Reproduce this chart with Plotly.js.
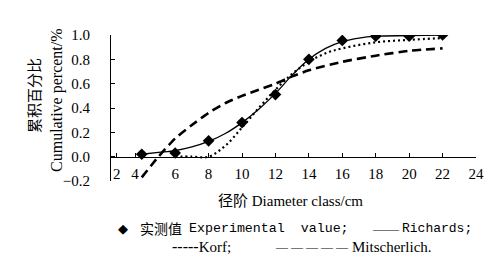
<!DOCTYPE html>
<html><head><meta charset="utf-8">
<script src="https://cdn.plot.ly/plotly-3.0.1.min.js"></script>
<style>html,body{margin:0;padding:0;background:#fff;}#chart{width:499px;height:260px;}</style>
</head><body><div id="chart"></div>
<script>
// Experimental values
const expX = [4, 6, 8, 10, 12, 14, 16, 18, 20, 22];
const expY = [0.02, 0.03, 0.13, 0.28, 0.51, 0.80, 0.955, 0.99, 0.99, 1.0];
// Richards model
const richX = [4, 5, 6, 7, 8, 9, 10, 11, 12, 13, 14, 15, 16, 17, 18, 20, 22];
const richY = [0.02, 0.035, 0.05, 0.08, 0.125, 0.19, 0.28, 0.39, 0.52, 0.67, 0.80, 0.89, 0.945, 0.975, 0.99, 0.995, 1.0];
// Korf model
const korfX = [6, 7, 8, 9, 10, 11, 12, 13, 14, 15, 16, 18, 20, 22];
const korfY = [0.0, 0.0, 0.0, 0.09, 0.24, 0.40, 0.55, 0.68, 0.78, 0.85, 0.89, 0.94, 0.96, 0.975];
// Mitscherlich model
const mitX = [4, 5, 6, 7, 8, 9, 10, 11, 12, 13, 14, 16, 18, 20, 22];
const mitY = [-0.17, 0.0, 0.15, 0.26, 0.36, 0.44, 0.50, 0.55, 0.60, 0.66, 0.71, 0.78, 0.83, 0.87, 0.89];
// Axis ticks
const xTickVals = [2.5, 3.6, 6, 8, 10, 12, 14, 16, 18, 20, 22, 24];
const xTickText = ['2', '4', '6', '8', '10', '12', '14', '16', '18', '20', '22', '24'];
const yTickVals = [-0.2, 0, 0.2, 0.4, 0.6, 0.8, 1.0];

const serif = '"Liberation Serif", "Times New Roman", serif';
const cjk = '"Noto Sans CJK SC", sans-serif';
const mono = '"Liberation Mono", "Courier New", monospace';

const traces = [
  {x: mitX, y: mitY, mode: 'lines', line: {color: '#000', width: 2.6, dash: '9px,5px', shape: 'spline', smoothing: 0.6}, hoverinfo: 'skip'},
  {x: korfX, y: korfY, mode: 'lines', line: {color: '#000', width: 2.2, dash: '2px,3px', shape: 'spline'}, hoverinfo: 'skip'},
  {x: richX, y: richY, mode: 'lines', line: {color: '#000', width: 1.3, shape: 'spline'}, hoverinfo: 'skip'},
  {x: expX, y: expY, mode: 'markers', marker: {symbol: 'diamond', size: 9, color: '#000'}, hoverinfo: 'skip'}
];

function ann(x, y, text, font, anchor) {
  return {xref: 'paper', yref: 'paper', x: x, y: y, xanchor: anchor || 'left', yanchor: 'middle',
          showarrow: false, text: text, font: font};
}

const layout = {
  width: 499, height: 260,
  margin: {l: 111, r: 23, t: 35, b: 79},
  paper_bgcolor: '#fff', plot_bgcolor: '#fff',
  showlegend: false,
  font: {family: serif, size: 14, color: '#000'},
  xaxis: {
    range: [2.16, 24], anchor: 'free', position: 0.1667,
    showline: true, linecolor: '#000', linewidth: 1,
    showgrid: false, zeroline: false,
    ticks: 'inside', ticklen: 4, tickcolor: '#000',
    tickvals: xTickVals, ticktext: xTickText,
    tickfont: {family: serif, size: 15, color: '#000'},
    ticklabelstandoff: 3
  },
  yaxis: {
    range: [-0.2, 1.0],
    showline: true, linecolor: '#000', linewidth: 1,
    showgrid: false, zeroline: false,
    ticks: 'inside', ticklen: 4, tickcolor: '#000',
    tickvals: yTickVals, tickformat: '.1f',
    tickfont: {family: serif, size: 15, color: '#000'},
    ticklabelstandoff: 17
  },
  annotations: [
    Object.assign(ann(-0.214, 0.589, '累积百分比', {family: cjk, size: 15, color: '#000'}, 'center'), {textangle: -90}),
    Object.assign(ann(-0.148, 0.555, 'Cumulative percent/%', {family: serif, size: 16, color: '#000'}, 'center'), {textangle: -90}),
    ann(0.493, -0.13, '<span style="font-family:Noto Sans CJK SC">径阶</span> Diameter class/cm', {family: serif, size: 15, color: '#000'}, 'center'),
    // legend line 1
    ann(0.033, -0.322, '◆', {family: 'DejaVu Sans', size: 13, color: '#000'}, 'center'),
    ann(0.074, -0.322, '实测值', {family: cjk, size: 14, color: '#000'}),
    ann(0.208, -0.322, 'Experimental  value;', {family: mono, size: 13.3, color: '#000'}),
    ann(0.7096, -0.322, '——', {family: serif, size: 13, color: '#000'}),
    ann(0.7918, -0.322, 'Richards;', {family: mono, size: 13, color: '#000'}),
    // legend line 2
    ann(0.1616, -0.452, '<span style="font-size:16px">-----</span>Korf;', {family: serif, size: 15, color: '#000'}),
    ann(0.4438, -0.452, '<span style="font-size:12px">— — — — —</span>', {family: serif, size: 12, color: '#000'}),
    ann(0.656, -0.452, 'Mitscherlich.', {family: serif, size: 15, color: '#000'})
  ]
};

Plotly.newPlot('chart', traces, layout, {staticPlot: true, displayModeBar: false});
</script>
</body></html>
